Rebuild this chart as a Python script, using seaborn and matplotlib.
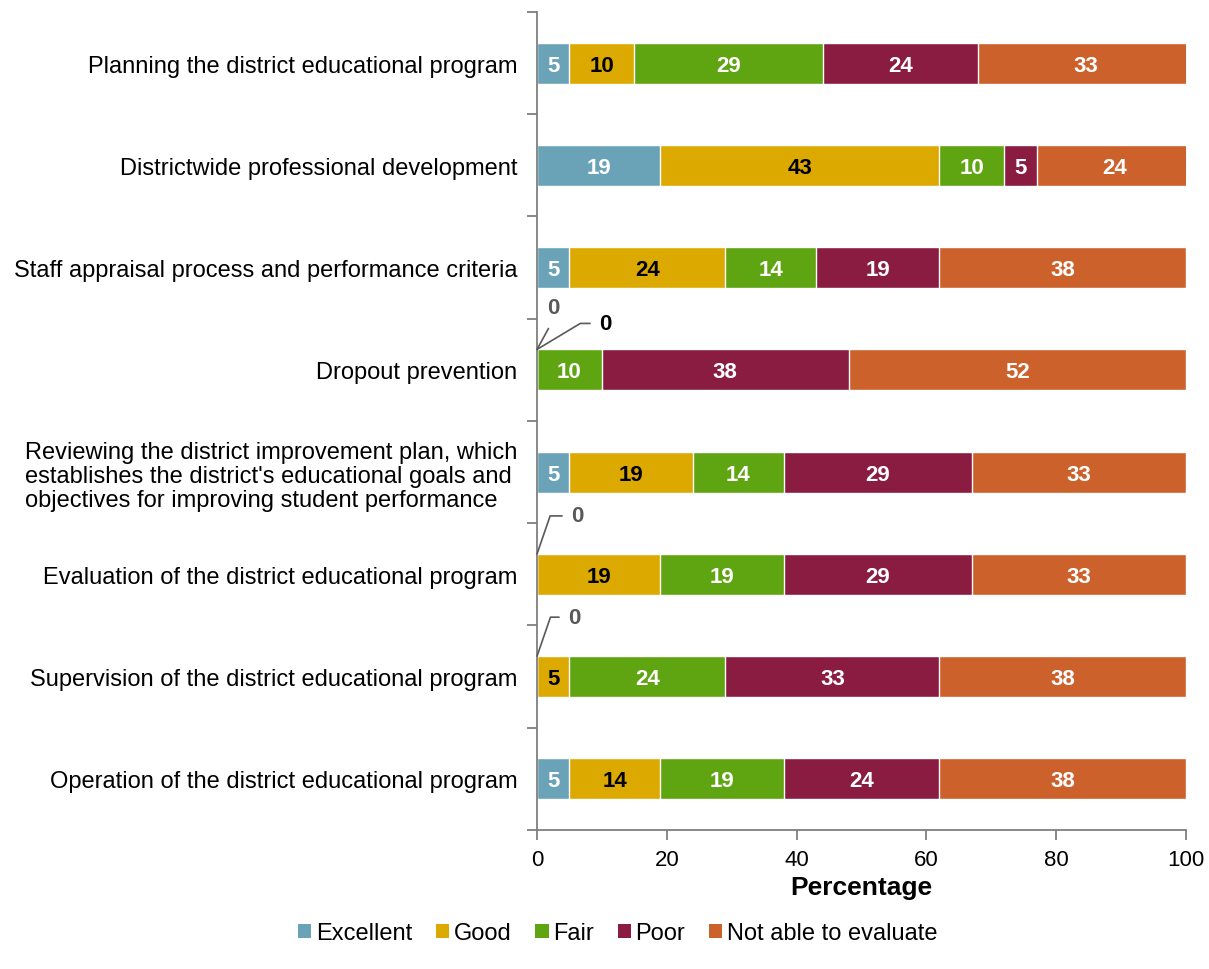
import numpy as np
import pandas as pd
import matplotlib
matplotlib.use("Agg")
import matplotlib.pyplot as plt
from matplotlib.patches import Patch
import seaborn as sns

# Survey items and percentage of respondents giving each rating
items = [
    "Planning the district educational program",
    "Districtwide professional development",
    "Staff appraisal process and performance criteria",
    "Dropout prevention",
    "Reviewing the district improvement plan, which\n"
    "establishes the district's educational goals and\n"
    "objectives for improving student performance",
    "Evaluation of the district educational program",
    "Supervision of the district educational program",
    "Operation of the district educational program",
]
ratings = ["Excellent", "Good", "Fair", "Poor", "Not able to evaluate"]
excellent = [5, 19, 5, 0, 5, 0, 0, 5]
good = [10, 43, 24, 0, 19, 19, 5, 14]
fair = [29, 10, 14, 10, 14, 19, 24, 19]
poor = [24, 5, 19, 38, 29, 29, 33, 24]
not_able = [33, 24, 38, 52, 33, 33, 38, 38]

series = [excellent, good, fair, poor, not_able]
colors = ["#6AA3B8", "#DCA900", "#5FA411", "#8B1C41", "#CC612C"]
label_colors = ["white", "black", "white", "white", "white"]
GRAY = "#595959"

# Callouts for zero-width segments: (row, series) -> offset in px, elbow angle, colour
zero_callouts = {
    (3, 0): dict(offset=(16, 42), angle=None, color=GRAY),
    (3, 1): dict(offset=(68, 26), angle=31, color="black"),
    (5, 0): dict(offset=(40, 38), angle=71, color=GRAY),
    (6, 0): dict(offset=(37, 39), angle=71, color=GRAY),
}

sns.set_theme(style="white")
plt.rcParams["font.family"] = ["Liberation Sans", "DejaVu Sans"]
plt.rcParams["text.color"] = "black"
plt.rcParams["axes.labelcolor"] = "black"

df = pd.DataFrame({"item": items})
for name, vals in zip(ratings, series):
    df[name] = vals
cum = df[ratings].cumsum(axis=1)

fig = plt.figure(figsize=(12.09, 9.70), dpi=100)
ax = fig.add_axes([0.4442, 0.1433, 0.5368, 0.8433])

BAR_W = 0.40
# Stack by drawing cumulative totals from the outermost segment inward
for k in range(len(ratings) - 1, -1, -1):
    plot_df = pd.DataFrame({"item": items, "value": cum[ratings[k]].values})
    sns.barplot(data=plot_df, x="value", y="item", orient="h", color=colors[k],
                saturation=1, width=BAR_W, order=items, ax=ax, errorbar=None)

ax.set_xlim(0, 100)
ax.set_ylim(len(items) - 0.5, -0.5)

# Segment value labels
for i in range(len(items)):
    left = 0
    for k, vals in enumerate(series):
        v = vals[i]
        if v > 0:
            ax.text(left + v / 2, i + 0.02, f"{v}", ha="center", va="center",
                    color=label_colors[k], fontsize=16, fontweight="bold")
        elif (i, k) in zero_callouts:
            c = zero_callouts[(i, k)]
            if c["angle"] is None:
                arrow = dict(arrowstyle="-", color=GRAY, lw=1.2, shrinkA=6,
                             shrinkB=0, relpos=(0.6, 0.0))
            else:
                arrow = dict(arrowstyle="-", color=GRAY, lw=1.2, shrinkA=4,
                             shrinkB=0, relpos=(0.0, 0.5),
                             connectionstyle=f"angle,angleA=0,angleB={c['angle']},rad=0")
            ax.annotate(f"{v}", xy=(left, i - BAR_W / 2), xytext=c["offset"],
                        textcoords="offset pixels", ha="center", va="center",
                        color=c["color"], fontsize=16, fontweight="bold",
                        arrowprops=arrow, annotation_clip=False)
        left += v

# Axes styling
for side in ["top", "right"]:
    ax.spines[side].set_visible(False)
for side in ["left", "bottom"]:
    ax.spines[side].set_color("#7F7F7F")
    ax.spines[side].set_linewidth(1.3)

ax.set_yticks(range(len(items)))
ax.set_yticklabels(items, fontsize=17, color="black", multialignment="left",
                   linespacing=1.12)
ax.set_yticks(np.arange(-0.5, len(items), 1), minor=True)
ax.tick_params(axis="y", which="major", length=0, pad=14)
ax.tick_params(axis="y", which="minor", length=7, width=1.3, color="#7F7F7F",
               direction="out", left=True)

ax.set_xticks([0, 20, 40, 60, 80, 100])
ax.tick_params(axis="x", length=7, width=1.3, color="#7F7F7F", direction="out",
               labelsize=16, labelcolor="black", pad=7, bottom=True)
ax.set_xlabel("Percentage", fontsize=19, fontweight="bold", labelpad=3, color="black")
ax.set_ylabel("")

handles = [Patch(facecolor=c, edgecolor="none") for c in colors]
fig.legend(handles, ratings, loc="center", bbox_to_anchor=(0.511, 0.037), ncol=5,
           frameon=False, fontsize=17, handlelength=0.56, handleheight=0.56,
           handletextpad=0.2, columnspacing=1.0, labelcolor="black")

fig.savefig("out.png", dpi=100)
